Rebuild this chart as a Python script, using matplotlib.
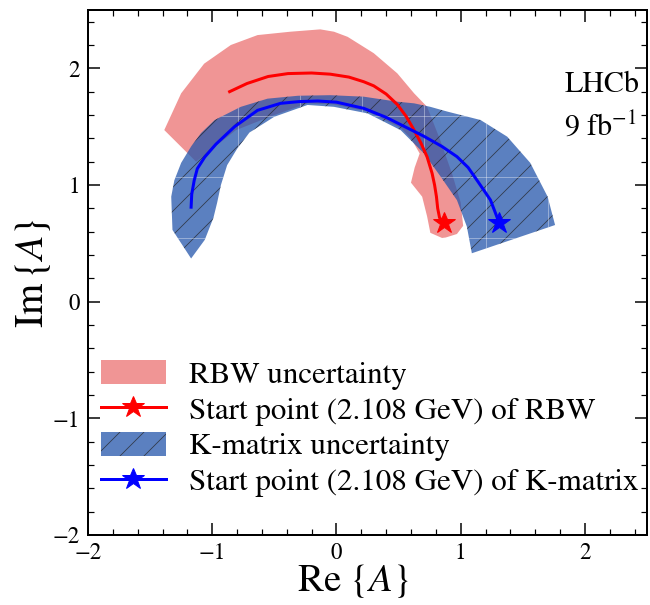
import numpy as np
import matplotlib
matplotlib.use('Agg')
import matplotlib.pyplot as plt
from matplotlib.patches import Polygon
from matplotlib.ticker import MultipleLocator
from matplotlib.transforms import IdentityTransform

# central curves, first point = start point (2.108 GeV)
rbw_re = [0.866, 0.83, 0.815, 0.805, 0.79, 0.77, 0.73, 0.68, 0.62, 0.56, 0.49, 0.40, 0.30, 0.22, 0.10,
          -0.05, -0.20, -0.39, -0.55, -0.72, -0.86]
rbw_im = [0.672, 0.72, 0.80, 0.90, 1.00, 1.10, 1.24, 1.36, 1.48, 1.59, 1.69, 1.78, 1.85, 1.885, 1.925,
          1.95, 1.96, 1.955, 1.93, 1.87, 1.80]

kmat_re = [1.31, 1.28, 1.24, 1.19, 1.13, 1.06, 0.97, 0.85, 0.70, 0.55, 0.40, 0.22, 0.0, -0.15, -0.30,
           -0.45, -0.635, -0.82, -0.97, -1.06, -1.12, -1.145, -1.165, -1.17]
kmat_im = [0.674, 0.76, 0.871, 0.95, 1.043, 1.15, 1.243, 1.33, 1.42, 1.50, 1.58, 1.657, 1.71, 1.72, 1.715,
           1.70, 1.64, 1.50, 1.35, 1.24, 1.14, 1.04, 0.92, 0.81]

# uncertainty bands (outer edge then inner edge)
rbw_band_re = [-1.386, -1.25, -1.065, -0.85, -0.635, -0.37, -0.13, -0.02, 0.09, 0.30, 0.49, 0.625, 0.73,
               0.83, 0.93, 1.0, 1.02, 0.97, 0.88, 0.85, 0.756, 0.73, 0.69, 0.60, 0.63, 0.67, 0.60, 0.517,
               0.25, -0.02, -0.233, -0.5, -0.81, -1.13]
rbw_band_im = [1.471, 1.786, 2.04, 2.2, 2.285, 2.314, 2.334, 2.314, 2.27, 2.13, 1.957, 1.786, 1.67,
               1.40, 1.10, 0.85, 0.65, 0.58, 0.55, 0.546, 0.59, 0.73, 0.90, 1.02, 1.15, 1.27, 1.40, 1.49,
               1.63, 1.69, 1.70, 1.60, 1.47, 1.20]

kmat_band_re = [-1.17, -1.32, -1.33, -1.305, -1.25, -1.17, -1.09, -0.98, -0.77, -0.555, -0.31, -0.05, 0.22,
                0.49, 0.625, 0.756, 0.89, 1.16, 1.375, 1.56, 1.70, 1.76,
                1.09, 1.05, 0.97, 0.84, 0.705, 0.517, 0.25, -0.02, -0.233, -0.5, -0.70, -0.80, -0.88,
                -0.93, -0.96, -0.99, -1.06]
kmat_band_im = [0.37, 0.615, 0.90, 1.04, 1.19, 1.33, 1.445, 1.557, 1.67, 1.74, 1.765, 1.77, 1.757,
                1.714, 1.70, 1.67, 1.63, 1.557, 1.414, 1.19, 0.90, 0.657,
                0.415, 0.643, 0.87, 1.07, 1.27, 1.47, 1.614, 1.67, 1.686, 1.585, 1.45, 1.31, 1.17,
                1.0, 0.85, 0.72, 0.53]

plt.rcParams['font.family'] = 'STIXGeneral'
plt.rcParams['mathtext.fontset'] = 'stix'
plt.rcParams['hatch.linewidth'] = 0.8

W, H = 650, 605
fig = plt.figure(figsize=(W / 72, H / 72), dpi=72)
ax = fig.add_axes([88 / W, 1 - 535 / H, 559 / W, 525 / H])

rbw_patch = Polygon(np.column_stack([rbw_band_re, rbw_band_im]), closed=True,
                    facecolor='#f09595', edgecolor='none', lw=0, zorder=1, label='RBW uncertainty')
ax.add_patch(rbw_patch)
kmat_patch = Polygon(np.column_stack([kmat_band_re, kmat_band_im]), closed=True,
                     facecolor='#2456ab', edgecolor='#222222', lw=0, alpha=0.75, hatch='/',
                     zorder=2, label='K-matrix uncertainty')
ax.add_patch(kmat_patch)

# faint tile seams seen inside the hatched band
for xp in [238, 300, 362, 424, 486, 548]:
    seam, = ax.plot([xp, xp], [0, H], transform=IdentityTransform(), color='white', lw=0.8, alpha=0.45, zorder=3)
    seam.set_clip_path(kmat_patch)
for yp in [116, 177, 238]:
    seam, = ax.plot([0, W], [H - yp, H - yp], transform=IdentityTransform(), color='white', lw=0.8, alpha=0.45, zorder=3)
    seam.set_clip_path(kmat_patch)

l1, = ax.plot(rbw_re, rbw_im, color='red', lw=3, marker='*', markevery=[0], markersize=23, zorder=4,
              label='Start point (2.108 GeV) of RBW')
l2, = ax.plot(kmat_re, kmat_im, color='blue', lw=3, marker='*', markevery=[0], markersize=23, zorder=4,
              label='Start point (2.108 GeV) of K-matrix')

ax.set_xlim(-2, 2.5)
ax.set_ylim(-2, 2.5)
ax.xaxis.set_major_locator(MultipleLocator(1))
ax.xaxis.set_minor_locator(MultipleLocator(0.2))
ax.yaxis.set_major_locator(MultipleLocator(1))
ax.yaxis.set_minor_locator(MultipleLocator(0.2))
ax.tick_params(which='both', direction='in', top=True, right=True, labelsize=23, pad=8)
ax.tick_params(which='major', length=12, width=1.5)
ax.tick_params(which='minor', length=6, width=1.2)
for s in ax.spines.values():
    s.set_linewidth(2)

ax.set_xlabel(r'$\mathrm{Re}\ \{A\}$', fontsize=39, labelpad=0)
ax.set_ylabel(r'$\mathrm{Im}\,\{A\}$', fontsize=40, labelpad=0)
ax.xaxis.set_label_coords(0.474, -0.052)

ax.text(0.852, 0.857, 'LHCb', transform=ax.transAxes, fontsize=30, ha='left', va='center')
ax.text(0.852, 0.777, r'9 fb$^{-1}$', transform=ax.transAxes, fontsize=30, ha='left', va='center')

ax.legend(handles=[rbw_patch, l1, kmat_patch, l2], loc='upper left', bbox_to_anchor=(0.023, 0.333),
          frameon=False, fontsize=31, borderaxespad=0, borderpad=0, labelspacing=0.2,
          handlelength=2.1, handleheight=0.8, handletextpad=0.75)

fig.savefig('out.png', dpi=72)
